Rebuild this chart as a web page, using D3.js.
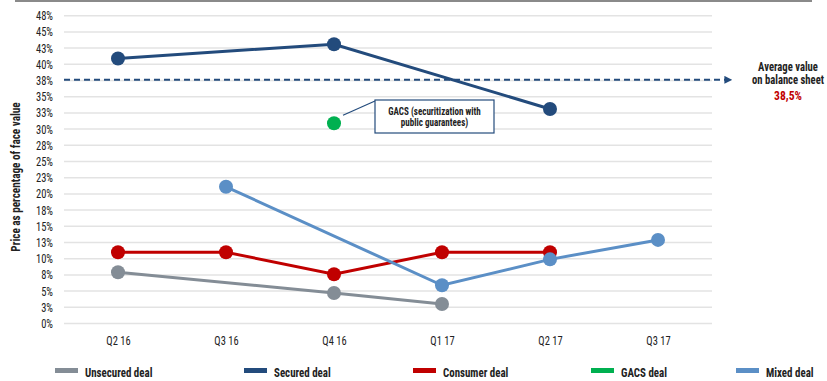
<!DOCTYPE html>
<html>
<head>
<meta charset="utf-8">
<script src="https://cdn.jsdelivr.net/npm/d3@7"></script>
<style>
  body { margin: 0; background: #fff; }
  svg text { font-family: 'Roboto Condensed', Roboto, sans-serif; fill: #222; }
</style>
</head>
<body>
<div id="chart"></div>
<script>
// --- data ---
const quarters = ["Q2 16", "Q3 16", "Q4 16", "Q1 17", "Q2 17", "Q3 17"];
const unsecured = [7.9, null, 4.7, 3.0, null, null];
const secured = [40.9, null, 43.1, null, 33.1, null];
const consumer = [11.0, 11.0, 7.6, 11.0, 11.0, null];
const gacs = [null, null, 30.9, null, null, null];
const mixed = [null, 21.1, null, 5.9, 9.9, 12.9];
const seriesNames = ["Unsecured deal", "Secured deal", "Consumer deal", "GACS deal", "Mixed deal"];
const seriesColors = ["#848d96", "#234b7c", "#c00000", "#00b050", "#5b8fc6"];
const yTickValues = [0, 2.5, 5, 7.5, 10, 12.5, 15, 17.5, 20, 22.5, 25, 27.5, 30, 32.5, 35, 37.5, 40, 42.5, 45, 47.5];
const yTickLabels = ["0%", "3%", "5%", "8%", "10%", "13%", "15%", "18%", "20%", "23%", "25%", "28%", "30%", "33%", "35%", "38%", "40%", "43%", "45%", "48%"];
const avgLinePos = 37.6;
const avgLabel = ["Average value", "on balance sheet"];
const avgValue = "38,5%";
const gacsNote = ["GACS (securitization with", "public guarantees)"];

const W = 827, H = 381;
const svg = d3.select("#chart").append("svg")
  .attr("width", W)
  .attr("height", H);

// squeeze Roboto glyphs to look like the condensed face of the original
function narrow(sel, k) {
  sel.each(function() {
    const len = this.getComputedTextLength();
    d3.select(this)
      .attr("textLength", len * k)
      .attr("lengthAdjust", "spacingAndGlyphs");
  });
}

// top rule
svg.append("line")
  .attr("x1", 15).attr("x2", 812)
  .attr("y1", 1).attr("y2", 1)
  .attr("stroke", "#8a8a8a")
  .attr("stroke-width", 2);

// --- scales ---
const x = d3.scalePoint()
  .domain(quarters)
  .range([64, 712])
  .padding(0.5);

const y = d3.scaleLinear()
  .domain([0, 47.5])
  .range([323.5, 15.7]);

// gridlines
svg.append("g")
  .attr("class", "grid")
  .selectAll("line")
  .data(yTickValues)
  .enter().append("line")
  .attr("x1", 64).attr("x2", 712)
  .attr("y1", d => y(d)).attr("y2", d => y(d))
  .attr("stroke", "#e3e3e3")
  .attr("stroke-width", 1.5);

// y axis labels
const yAxis = d3.axisLeft(y)
  .tickValues(yTickValues)
  .tickFormat((d, i) => yTickLabels[i])
  .tickSize(0)
  .tickPadding(0);

svg.append("g")
  .attr("transform", "translate(53,0)")
  .call(yAxis)
  .call(g => g.select(".domain").remove())
  .selectAll("text")
  .style("font-size", "12.5px")
  .attr("fill", "#222")
  .call(narrow, 0.84);

// x axis labels
const xAxis = d3.axisBottom(x).tickSize(0).tickPadding(0);
svg.append("g")
  .attr("transform", "translate(0,336)")
  .call(xAxis)
  .call(g => g.select(".domain").remove())
  .selectAll("text")
  .style("font-size", "12.5px")
  .attr("fill", "#222")
  .call(narrow, 0.84);

// y title
svg.append("text")
  .attr("transform", "translate(20,177) rotate(-90)")
  .attr("text-anchor", "middle")
  .style("font-size", "13px")
  .style("font-weight", "bold")
  .text("Price as percentage of face value")
  .call(narrow, 0.86);

// --- average line ---
const defs = svg.append("defs");
defs.append("marker")
  .attr("id", "arrow")
  .attr("viewBox", "0 0 10 10")
  .attr("refX", 2).attr("refY", 5)
  .attr("markerWidth", 4).attr("markerHeight", 4)
  .attr("orient", "auto")
  .append("path")
  .attr("d", "M0,0 L10,5 L0,10 z")
  .attr("fill", "#234b7c");

svg.append("line")
  .attr("x1", 64).attr("x2", 726)
  .attr("y1", y(avgLinePos)).attr("y2", y(avgLinePos))
  .attr("stroke", "#234b7c")
  .attr("stroke-width", 2)
  .attr("stroke-dasharray", "6,4")
  .attr("marker-end", "url(#arrow)");

avgLabel.forEach((t, i) => {
  svg.append("text")
    .attr("x", 788).attr("y", 71 + i * 13)
    .attr("text-anchor", "middle")
    .style("font-size", "12.5px")
    .style("font-weight", "bold")
    .text(t)
    .call(narrow, 0.85);
});
svg.append("text")
  .attr("x", 788).attr("y", 100)
  .attr("text-anchor", "middle")
  .style("font-size", "13.5px")
  .style("font-weight", "bold")
  .style("fill", "#c00000")
  .text(avgValue)
  .call(narrow, 0.86);

// --- series ---
const allSeries = [unsecured, secured, consumer, gacs, mixed];
const line = d3.line()
  .x(d => x(d.q))
  .y(d => y(d.v));

allSeries.forEach((vals, si) => {
  const pts = vals.map((v, i) => ({ q: quarters[i], v: v })).filter(d => d.v != null);
  const g = svg.append("g").attr("class", "series");
  if (pts.length > 1) {
    g.append("path")
      .datum(pts)
      .attr("d", line)
      .attr("fill", "none")
      .attr("stroke", seriesColors[si])
      .attr("stroke-width", 3);
  }
  g.selectAll("circle")
    .data(pts)
    .enter().append("circle")
    .attr("cx", d => x(d.q))
    .attr("cy", d => y(d.v))
    .attr("r", 7)
    .attr("fill", seriesColors[si]);
});

// --- GACS callout ---
const gx = x("Q4 16"), gy = y(gacs[2]);
svg.append("line")
  .attr("x1", gx + 9).attr("y1", gy - 8)
  .attr("x2", 375).attr("y2", 101)
  .attr("stroke", "#234b7c")
  .attr("stroke-width", 1.2);
svg.append("rect")
  .attr("x", 375).attr("y", 100)
  .attr("width", 119).attr("height", 33)
  .attr("fill", "#fff")
  .attr("stroke", "#234b7c")
  .attr("stroke-width", 1.2);
gacsNote.forEach((t, i) => {
  svg.append("text")
    .attr("x", 434.5).attr("y", 115 + i * 11)
    .attr("text-anchor", "middle")
    .style("font-size", "10.5px")
    .style("font-weight", "bold")
    .text(t)
    .call(narrow, 0.86);
});

// --- legend ---
const legendX = [55, 244, 413, 591, 736];
const legend = svg.append("g").attr("class", "legend");
seriesNames.forEach((name, i) => {
  legend.append("rect")
    .attr("x", legendX[i]).attr("y", 368)
    .attr("width", 23).attr("height", 5)
    .attr("fill", seriesColors[i]);
  legend.append("text")
    .attr("x", legendX[i] + 30).attr("y", 376.5)
    .style("font-size", "13px")
    .style("font-weight", "bold")
    .text(name)
    .call(narrow, 0.84);
});
</script>
</body>
</html>
